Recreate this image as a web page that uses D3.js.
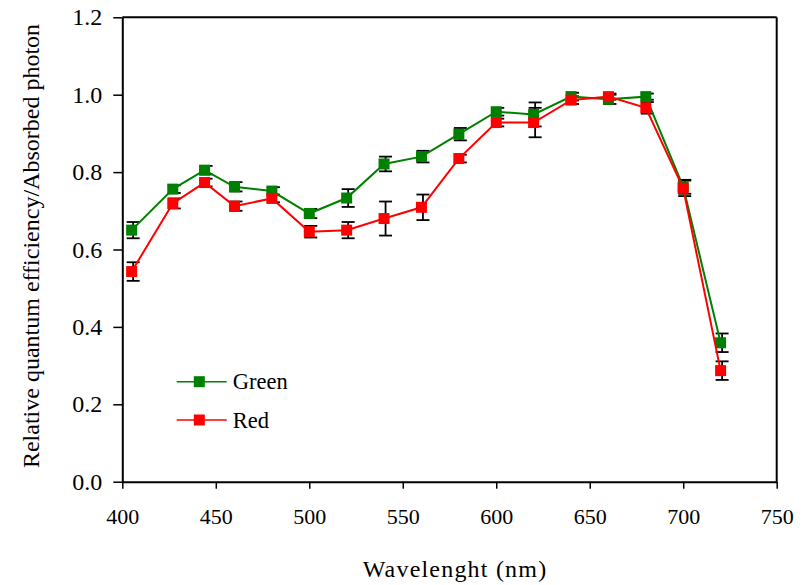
<!DOCTYPE html>
<html>
<head>
<meta charset="utf-8">
<script src="https://cdn.jsdelivr.net/npm/d3@7"></script>
<style>
  body { margin: 0; background: #fff; }
  svg { display: block; }
</style>
</head>
<body>
<svg id="chart" width="812" height="585"></svg>
<script>
// data
const wavelengths = [405, 427, 444, 460, 480, 500, 520, 540, 560, 580, 600, 620, 640, 660, 680, 700, 720];
const greenVals = [0.650, 0.756, 0.805, 0.762, 0.751, 0.693, 0.733, 0.821, 0.840, 0.898, 0.956, 0.949, 0.995, 0.988, 0.995, 0.762, 0.359];
const greenErr  = [0.021, 0.010, 0.011, 0.012, 0.010, 0.012, 0.023, 0.019, 0.015, 0.016, 0.010, 0.031, 0.010, 0.012, 0.008, 0.018, 0.024];
const redVals   = [0.543, 0.719, 0.773, 0.712, 0.732, 0.646, 0.650, 0.680, 0.709, 0.835, 0.928, 0.928, 0.986, 0.995, 0.966, 0.758, 0.287];
const redErr    = [0.024, 0.013, 0.010, 0.012, 0.010, 0.015, 0.021, 0.044, 0.033, 0.010, 0.010, 0.038, 0.010, 0.008, 0.015, 0.020, 0.024];
const xTicks = [400, 450, 500, 550, 600, 650, 700, 750];
const yTicks = [0, 0.2, 0.4, 0.6, 0.8, 1.0, 1.2];

const series = [
  { name: "Green", color: "#008000", vals: greenVals, err: greenErr },
  { name: "Red", color: "#ff0000", vals: redVals, err: redErr }
];

const FONT = "Liberation Serif";
const svg = d3.select("#chart").attr("font-family", FONT);
const plotL = 122.3, plotR = 776.7, plotT = 17.3, plotB = 481.7;

const x = d3.scaleLinear().domain([400, 750]).range([plotL, plotR]);
const y = d3.scaleLinear().domain([0, 1.2]).range([plotB, plotT]);

// x axis
const gx = svg.append("g")
  .attr("transform", `translate(0,${plotB})`)
  .call(d3.axisBottom(x).tickValues(xTicks).tickFormat(d3.format("d")).tickSize(7).tickSizeOuter(0).tickPadding(20));
gx.attr("font-family", FONT);
gx.select(".domain").attr("stroke-width", 2);
gx.selectAll(".tick line").attr("stroke-width", 1.5);
gx.selectAll(".tick text").attr("font-size", 22).attr("font-family", FONT).attr("fill", "#000");

// y axis
const gy = svg.append("g")
  .attr("transform", `translate(${plotL},0)`)
  .call(d3.axisLeft(y).tickValues(yTicks).tickFormat(d3.format(".1f")).tickSize(9).tickSizeOuter(0).tickPadding(11));
gy.attr("font-family", FONT);
gy.select(".domain").attr("stroke-width", 2);
gy.selectAll(".tick line").attr("stroke-width", 1.5);
gy.selectAll(".tick text").attr("font-size", 24).attr("font-family", FONT).attr("fill", "#000");

// frame top and right
svg.append("line").attr("x1", plotL).attr("x2", plotR).attr("y1", plotT).attr("y2", plotT)
  .attr("stroke", "#000").attr("stroke-width", 2);
svg.append("line").attr("x1", plotR).attr("x2", plotR).attr("y1", plotT).attr("y2", plotB)
  .attr("stroke", "#000").attr("stroke-width", 2);

// titles
svg.append("text")
  .attr("x", 455).attr("y", 577)
  .attr("text-anchor", "middle")
  .attr("font-family", FONT)
  .attr("font-size", 24)
  .attr("letter-spacing", 1.2)
  .text("Wavelenght (nm)");

svg.append("text")
  .attr("transform", "translate(39,246) rotate(-90)")
  .attr("text-anchor", "middle")
  .attr("font-family", FONT)
  .attr("font-size", 24)
  .text("Relative quantum efficiency/Absorbed photon");

const capW = 6.5, barShift = 1.5;
const line = d3.line().x(d => x(d[0])).y(d => y(d[1]));

// error bars
series.forEach(s => {
  const g = svg.append("g").attr("stroke", "#000").attr("stroke-width", 1.8);
  wavelengths.forEach((w, i) => {
    const cx = x(w) + barShift;
    const y0 = y(s.vals[i] - s.err[i]), y1 = y(s.vals[i] + s.err[i]);
    g.append("line").attr("x1", cx).attr("x2", cx).attr("y1", y0).attr("y2", y1);
    g.append("line").attr("x1", cx - capW).attr("x2", cx + capW).attr("y1", y0).attr("y2", y0);
    g.append("line").attr("x1", cx - capW).attr("x2", cx + capW).attr("y1", y1).attr("y2", y1);
  });
});

// lines and markers
const ms = 11;
series.forEach(s => {
  const pts = wavelengths.map((w, i) => [w, s.vals[i]]);
  svg.append("path").datum(pts)
    .attr("fill", "none").attr("stroke", s.color).attr("stroke-width", 2)
    .attr("d", line);
  svg.append("g").selectAll("rect").data(pts).join("rect")
    .attr("x", d => x(d[0]) - ms / 2).attr("y", d => y(d[1]) - ms / 2)
    .attr("width", ms).attr("height", ms)
    .attr("fill", s.color);
});

// legend
const legY = [381.7, 420];
series.forEach((s, i) => {
  const g = svg.append("g").attr("transform", `translate(0,${legY[i]})`);
  g.append("line").attr("x1", 176.7).attr("x2", 226.7).attr("y1", 0).attr("y2", 0)
    .attr("stroke", s.color).attr("stroke-width", 1.5);
  g.append("rect").attr("x", 199.3 - ms / 2).attr("y", -ms / 2).attr("width", ms).attr("height", ms)
    .attr("fill", s.color);
  g.append("text").attr("x", 232.7).attr("y", 7.5)
    .attr("font-family", FONT).attr("font-size", 22.5).text(s.name);
});
</script>
</body>
</html>
